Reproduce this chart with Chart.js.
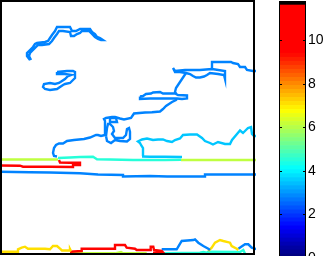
<!DOCTYPE html>
<html>
<head>
<meta charset="utf-8">
<script src="https://cdn.jsdelivr.net/npm/chart.js@4.4.0/dist/chart.umd.min.js"></script>
<style>
  html, body { margin: 0; padding: 0; background: #fff; overflow: hidden; }
  #plot { position: absolute; left: 0; top: 0; }
  #cbar { position: absolute; left: 270px; top: 0; }
</style>
</head>
<body>
<canvas id="plot" width="256" height="256"></canvas>
<canvas id="cbar" width="56" height="262"></canvas>
<script>
// contour levels (colour axis values)
const levelBlue = 2.7;
const levelSky = 3.4;
const levelAqua = 4.4;
const levelLime = 6.0;
const levelYellow = 7.0;
const levelRed = 9.3;

// colour axis
const climMax = 11.8;
const cmapSize = 64;
const jetTop = 10.67;
const cbarTicks = [0, 2, 4, 6, 8, 10];

// contour paths, [column, row] of the grid (row grows downwards)
const blueSquiggle = [[30,60],[27,56],[27,53],[30,50],[33,47],[35,44],[37,43],[45,42],[48,41],[50,38],[52,35],[55,31],[57,27],[63,27],[70,27],[72,31],[76,31],[80,29],[85,29],[90,29],[92,32],[95,34],[97,37],[100,38],[103,40],[101,40],[98,39],[95,37],[92,34],[89,31],[82,31],[80,33],[77,34],[74,36],[71,36],[70,32],[63,31],[59,31],[57,34],[54,38],[52,41],[49,44],[42,45],[38,45],[36,47],[33,50],[30,53],[29,56],[31,60]];
const blueHook = [[57,72],[62,71.5],[67,71],[73,71],[75,72],[75,78],[73,80],[70,83],[65,84],[63,85],[60,87],[57,89],[50,90],[45,89],[43,87],[44,84],[50,83],[55,84],[59,83],[62,81],[65,79],[68,76],[71,75],[65,74],[57,74],[57,72]];
const blueTop = [[212,69],[212,62],[222,62],[231,62],[233,63],[238,64],[240,67],[245,67],[247,70],[253,71],[257,71]];
const blueRidge = [[173,68],[175,71],[185,70],[200,70],[212,69],[225,71],[225,79],[224,75],[218,74],[210,73],[207,75],[204,76.5],[200,77.5],[196,77.5],[193,76],[190,74],[186,73],[180,72],[175,72],[173,68]];
const blueMidLoop = [[140,96.5],[143,96],[146,94],[151,93.5],[153,92.5],[160,92],[163,93.5],[170,93.5],[175,93.5],[178,95],[187,95.5],[187,98.5],[182,99],[177,98.5],[165,98.5],[150,98.5],[140,99],[140,96.5]];
const blueUpLink = [[186,73],[184,76],[182,79],[180,82],[178,85],[176,88],[175,92],[176,93.5]];
const blueMain = [[177,99],[176,100],[172,102],[169,104],[166,106],[163,109],[160,111.5],[152,112.3],[145,112.5],[134,113.5],[133,115],[131,118],[124,119.5],[120,118.5],[115,117],[112,117],[106,118],[104,119],[105,121],[105,128],[105,135],[101,136],[98,135],[96,135],[90,137.5],[84,139],[74,140],[67,141],[63,143.5],[59,143.5],[56,145],[54,148],[53,153],[54,156],[57,156.5]];
const blueInner = [[106,136],[107,141],[111,143],[115,140],[120,141],[127,141.5],[130,139],[130,132],[129,128],[127,129],[126,135],[123,138],[118,138],[115,138],[112,134],[114,131],[113,127],[110,124],[108,124],[107,128],[106,136]];
const blueKnot = [[110,118],[116,118],[117,122],[110,122],[110,118]];
const skyEdge = [[143,156],[143,151],[143,148],[141,145],[140,143],[138,141.5],[142,139.5],[147,138.5],[153,140],[158,139.5],[163,139.5],[167,141],[172,142],[175,140],[180,138.5],[183,135],[190,134.5],[197,134.5],[202,138],[205,141],[210,143],[213,144.5],[218,142],[225,144],[230,144],[232,140],[237,134],[240,130.5],[243,133],[248,128],[251,127],[252,134],[254,136],[257,136]];
const skyFloor = [[142,156.5],[150,156.7],[165,156.8],[182,157]];
const aquaBand = [[58,158],[70,157.5],[80,157],[93,156.7],[95,158],[97,159.3],[110,159.5],[133,160],[150,160],[165,160],[181,159.7]];
const limeLeft = [[-1,159.5],[20,159.5],[40,159.5],[58,159.5]];
const limeRight = [[181,160],[220,160],[257,160]];
const redBand = [[-1,165.5],[20,165.7],[23,166.7],[50,166.7],[73,167],[73,165],[80,165],[80,162.7],[70,162.7],[60,162.5],[59,160]];
const blueLow = [[-1,171.7],[30,172.3],[50,172.5],[80,173.3],[98,174.5],[123,175],[123,176.5],[150,176],[167,176.5],[205,176.5],[205,174.5],[257,174.5]];
const yellowFoot = [[-1,251.7],[18,251.7],[18,249.3],[21.7,247.7],[25,246.7],[28,248.7],[45,248.7],[50,249.3],[53,246],[57,246],[60,248.7],[62,250.5],[70,250.5],[70,249],[71,251]];
const redFoot = [[70,251.7],[81.7,251],[81.7,248.7],[115,248.7],[115,245],[125,245],[126.7,247.7],[135,248.7],[136.7,250],[150,250],[150.7,246.7],[153.3,246.7],[154,250],[161.7,251],[163.3,252.7],[153,252.7]];
const limeFoot = [[70,253.3],[115,253.3],[121,252],[123,253.3],[146.7,253.3]];
const blueFoot = [[161.7,249.3],[176.7,249.3],[178.3,246.7],[181.7,241],[193.3,240],[195,239.3],[198.3,242.7],[203.3,246],[208.3,248.7],[210,250]];
const yellowKnee = [[208.3,251],[211.7,247.7],[215,242.7],[220,240],[223.3,241],[230,242.7],[231.7,246],[236.7,248.7],[238.3,250]];
const blueToe = [[238.3,248.7],[245,244.3],[248.3,244.3],[251.7,247.7],[257,249.3]];
const aquaFoot = [[163.3,253.3],[200,252.7],[203.3,252],[206.7,252.7],[208.3,251.7],[240,252],[243.3,250],[245,253.5]];

const contours = [
    [blueSquiggle, levelBlue], [blueHook, levelBlue], [blueTop, levelBlue], [blueRidge, levelBlue],
    [blueMidLoop, levelBlue], [blueUpLink, levelBlue], [blueMain, levelBlue], [blueInner, levelBlue],
    [blueKnot, levelBlue], [skyEdge, levelSky], [skyFloor, levelSky], [aquaBand, levelAqua],
    [limeLeft, levelLime], [limeRight, levelLime], [redBand, levelRed], [blueLow, levelBlue],
    [yellowFoot, levelYellow], [redFoot, levelRed], [limeFoot, levelLime], [blueFoot, levelBlue],
    [yellowKnee, levelYellow], [blueToe, levelBlue], [aquaFoot, levelAqua]
];

function jet(v) {
    const t = Math.min(Math.max(v / jetTop, 0), 0.875);
    const c = k => Math.round(255 * Math.min(Math.max(1.5 - Math.abs(4 * t - k), 0), 1));
    return "rgb(" + c(3) + "," + c(2) + "," + c(1) + ")";
}

const framePlugin = {
    id: "frame",
    afterDraw(chart) {
        const a = chart.chartArea, ctx = chart.ctx;
        ctx.save();
        ctx.strokeStyle = "#000";
        ctx.lineWidth = 2;
        ctx.strokeRect(a.left + 1, a.top + 1, a.width - 3, a.height - 3);
        ctx.restore();
    }
};

new Chart(document.getElementById("plot"), {
    type: "scatter",
    data: {
        datasets: contours.map(([pts, lev]) => ({
            data: pts.map(p => ({ x: p[0], y: p[1] })),
            showLine: true,
            borderColor: jet(lev),
            borderWidth: 2.4,
            pointRadius: 0,
            tension: 0,
            fill: false
        }))
    },
    options: {
        responsive: false,
        animation: false,
        events: [],
        layout: { padding: 0 },
        plugins: { legend: { display: false }, tooltip: { enabled: false } },
        scales: {
            x: { type: "linear", min: 0, max: 256, display: false },
            y: { type: "linear", min: 0, max: 256, reverse: true, display: false }
        }
    },
    plugins: [framePlugin]
});

// colour bar: one stacked slab per colormap entry
const step = climMax / cmapSize;
const slabs = [];
for (let i = 0; i < cmapSize; i++) {
    slabs.push({
        data: [step],
        backgroundColor: i === cmapSize - 1 ? "#000" : jet(i * step),
        borderWidth: 0,
        barPercentage: 1,
        categoryPercentage: 1
    });
}

const cbarEdges = {
    id: "cbarEdges",
    afterDatasetsDraw(chart) {
        const a = chart.chartArea, ctx = chart.ctx, ys = chart.scales.y;
        ctx.save();
        ctx.strokeStyle = "#000";
        ctx.lineWidth = 1;
        ctx.beginPath();
        ctx.moveTo(a.left + 0.5, a.bottom);
        ctx.lineTo(a.left + 0.5, a.top);
        ctx.moveTo(a.right - 0.5, a.top);
        ctx.lineTo(a.right - 0.5, a.bottom);
        ys.ticks.forEach(t => {
            const y = Math.round(ys.getPixelForValue(t.value)) + 0.5;
            ctx.moveTo(a.left, y);
            ctx.lineTo(a.left + 3, y);
            ctx.moveTo(a.right - 3, y);
            ctx.lineTo(a.right, y);
        });
        ctx.stroke();
        ctx.restore();
    }
};

new Chart(document.getElementById("cbar"), {
    type: "bar",
    data: { labels: [""], datasets: slabs },
    options: {
        responsive: false,
        animation: false,
        events: [],
        layout: { padding: { left: 9, top: 1, bottom: 4, right: 0 } },
        plugins: { legend: { display: false }, tooltip: { enabled: false } },
        scales: {
            x: { stacked: true, display: false },
            y: {
                stacked: true,
                position: "right",
                min: 0,
                max: climMax,
                grid: { display: false, drawTicks: false },
                border: { display: false },
                ticks: {
                    stepSize: 2,
                    includeBounds: false,
                    padding: 2,
                    color: "#000",
                    font: { family: "Liberation Sans", size: 14 }
                },
                afterBuildTicks(s) { s.ticks = cbarTicks.map(v => ({ value: v })); },
                afterFit(s) { s.width = 20; s.paddingTop = 0; s.paddingBottom = 0; }
            }
        }
    },
    plugins: [cbarEdges]
});
</script>
</body>
</html>
